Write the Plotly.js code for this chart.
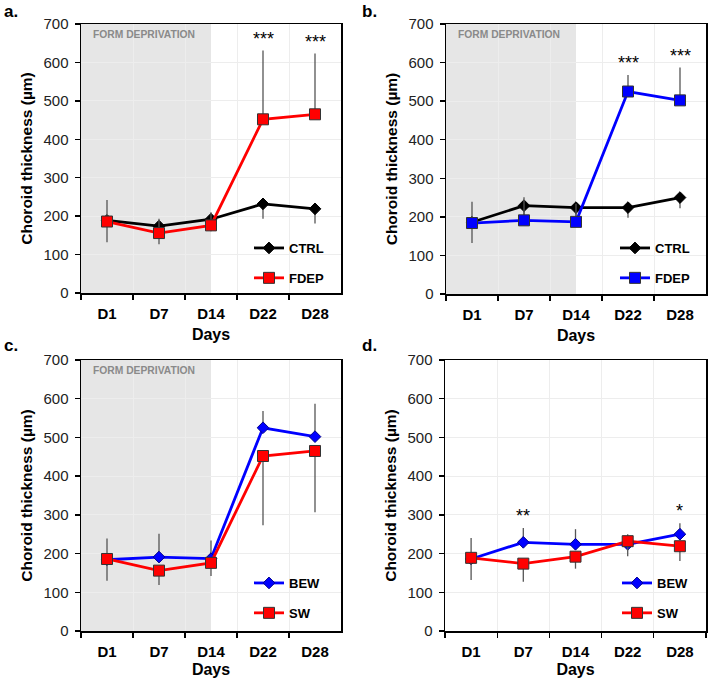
<!DOCTYPE html>
<html>
<head>
<meta charset="utf-8">
<script src="https://cdn.plot.ly/plotly-3.0.1.min.js"></script>
<style>html,body{margin:0;padding:0;background:#fff;}#chart{width:708px;height:678px;}</style>
</head>
<body>
<div id="chart"></div>
<script>
// ---- data ----
const days = ["D1", "D7", "D14", "D22", "D28"];
// SW animals
const swCtrl = [189, 174, 192, 232, 219];
const swCtrlSd = [57, 47, 31, 39, 38];
const swFdep = [186, 156, 176, 452, 465];
const swFdepSd = [56, 37, 34, 179, 158];
// BEW animals
const bewCtrl = [186, 229, 224, 224, 250];
const bewCtrlSd = [54, 37, 39, 26, 28];
const bewFdep = [184, 191, 187, 525, 502];
const bewFdepSd = [55, 60, 47, 43, 85];
// significance marks
const sigA = ["", "", "", "***", "***"];
const sigB = ["", "", "", "***", "***"];
const sigD = ["", "**", "", "", "*"];
const panelLabels = ["a.", "b.", "c.", "d."];
const shadeLabel = "FORM DEPRIVATION";

// ---- style ----
const FONT = "Liberation Sans, Arial, Helvetica, sans-serif";
const zeros = days.map(() => 0);
const RED = "#ff0000", BLUE = "#0000ff", BLACK = "#000000";

function errUp(sd) { return {type: "data", symmetric: false, array: sd, arrayminus: zeros, color: "#555", thickness: 1.3, width: 0}; }
function errDown(sd) { return {type: "data", symmetric: false, array: zeros, arrayminus: sd, color: "#555", thickness: 1.3, width: 0}; }

function diamondTrace(name, y, err, color, ax, leg) {
  return {type: "scatter", mode: "lines+markers", name: name, x: days, y: y,
    xaxis: "x" + ax, yaxis: "y" + ax, legend: leg, legendgroup: name + ax,
    line: {color: color, width: 2.8},
    marker: {symbol: "diamond", size: 9, color: color, line: {color: color === BLACK ? BLACK : "#00008b", width: 1}},
    error_y: err};
}
function squareTrace(name, y, err, color, ax, leg) {
  return {type: "scatter", mode: "lines+markers", name: name, x: days, y: y,
    xaxis: "x" + ax, yaxis: "y" + ax, legend: leg, legendgroup: name + ax,
    line: {color: color, width: 2.8},
    marker: {symbol: "square", size: 11, color: color, line: {color: "#333", width: 1}},
    error_y: err};
}

const traces = [
  diamondTrace("CTRL", swCtrl, errDown(swCtrlSd), BLACK, "", "legend"),
  squareTrace("FDEP", swFdep, errUp(swFdepSd), RED, "", "legend"),
  diamondTrace("CTRL", bewCtrl, errDown(bewCtrlSd), BLACK, "2", "legend2"),
  squareTrace("FDEP", bewFdep, errUp(bewFdepSd), BLUE, "2", "legend2"),
  diamondTrace("BEW", bewFdep, errUp(bewFdepSd), BLUE, "3", "legend3"),
  squareTrace("SW", swFdep, errDown(swFdepSd), RED, "3", "legend3"),
  diamondTrace("BEW", bewCtrl, errUp(bewCtrlSd), BLUE, "4", "legend4"),
  squareTrace("SW", swCtrl, errDown(swCtrlSd), RED, "4", "legend4")
];
traces[0].xaxis = "x"; traces[0].yaxis = "y";
traces[1].xaxis = "x"; traces[1].yaxis = "y";

const W = 708, H = 678;
const panels = [
  {l: 81, r: 341, t: 24, b: 293},
  {l: 446, r: 706, t: 24, b: 294},
  {l: 81, r: 341, t: 360, b: 631},
  {l: 445, r: 706, t: 360, b: 631}
];

function xax(p) {
  return {domain: [p.l / W, p.r / W], type: "category", categoryarray: days, range: [-0.5, 4.5],
    tickson: "boundaries", ticks: "outside", ticklen: 5, tickwidth: 1.3, tickcolor: "#000",
    showgrid: true, gridcolor: "#ededed", gridwidth: 1,
    showline: true, linecolor: "#000", linewidth: 1.5, mirror: true, zeroline: false,
    tickfont: {family: FONT, size: 15, color: "#000", weight: "bold"}, ticklabelstandoff: 6,
    title: {text: "Days", font: {family: FONT, size: 16, color: "#000", weight: "bold"}, standoff: 8},
    fixedrange: true, automargin: false};
}
function yax(p) {
  return {domain: [1 - p.b / H, 1 - p.t / H], range: [0, 700], dtick: 100, tick0: 0,
    ticks: "outside", ticklen: 5, tickwidth: 1.3, tickcolor: "#000",
    showgrid: true, gridcolor: "#ededed", gridwidth: 1,
    showline: true, linecolor: "#000", linewidth: 1.5, mirror: true, zeroline: false,
    tickfont: {family: FONT, size: 15, color: "#222"}, ticklabelstandoff: 3,
    title: {text: "Choroid thickness (µm)", font: {family: FONT, size: 15.5, color: "#000", weight: "bold"}, standoff: 7},
    fixedrange: true, automargin: false};
}

const layout = {
  width: W, height: H, margin: {l: 0, r: 0, t: 0, b: 0},
  paper_bgcolor: "#fff", plot_bgcolor: "#fff", showlegend: true,
  font: {family: FONT},
  xaxis: xax(panels[0]), yaxis: Object.assign(yax(panels[0]), {anchor: "x"}),
  xaxis2: Object.assign(xax(panels[1]), {anchor: "y2"}), yaxis2: Object.assign(yax(panels[1]), {anchor: "x2"}),
  xaxis3: Object.assign(xax(panels[2]), {anchor: "y3"}), yaxis3: Object.assign(yax(panels[2]), {anchor: "x3"}),
  xaxis4: Object.assign(xax(panels[3]), {anchor: "y4"}), yaxis4: Object.assign(yax(panels[3]), {anchor: "x4"}),
  shapes: [], annotations: []
};
layout.xaxis.anchor = "y";

const legendPos = [{x: 249, y: 233}, {x: 615, y: 233}, {x: 249, y: 568}, {x: 617, y: 568}];
["legend", "legend2", "legend3", "legend4"].forEach((k, i) => {
  layout[k] = {x: legendPos[i].x / W, y: 1 - legendPos[i].y / H, xanchor: "left", yanchor: "top",
    bgcolor: "rgba(0,0,0,0)", borderwidth: 0, tracegroupgap: 10, traceorder: "grouped",
    font: {family: FONT, size: 13, color: "#000", weight: "bold"}};
});

const axSuffix = ["", "2", "3", "4"];
// shaded form-deprivation period in panels a, b, c
[0, 1, 2].forEach(i => {
  const s = axSuffix[i];
  layout.shapes.push({type: "rect", xref: "x" + s, yref: "y" + s + " domain", x0: -0.5, x1: 2, y0: 0, y1: 1,
    fillcolor: "#e6e6e6", line: {width: 0}, layer: "below"});
  layout.annotations.push({xref: "x" + s, yref: "y" + s + " domain", x: -0.5, y: 1, xanchor: "left", yanchor: "top",
    xshift: 10, yshift: -3, text: shadeLabel, showarrow: false,
    font: {family: FONT, size: 10.3, color: "#8a8a8a", weight: "bold"}});
});

// significance stars above the upper error bar
function addStars(sig, mean, sd, s) {
  sig.forEach((t, j) => {
    if (!t) return;
    layout.annotations.push({xref: "x" + s, yref: "y" + s, x: days[j], y: mean[j] + sd[j], yanchor: "bottom",
      yshift: 0, text: t, showarrow: false, font: {family: FONT, size: 18, color: "#000"}});
  });
}
addStars(sigA, swFdep, swFdepSd, "");
addStars(sigB, bewFdep, bewFdepSd, "2");
addStars(sigD, bewCtrl, bewCtrlSd, "4");

// panel letters
const labelPos = [{x: 2, y: 0}, {x: 360, y: 0}, {x: 2, y: 334}, {x: 360, y: 334}];
panelLabels.forEach((t, i) => {
  layout.annotations.push({xref: "paper", yref: "paper", x: labelPos[i].x / W, y: 1 - labelPos[i].y / H,
    xanchor: "left", yanchor: "top", text: t, showarrow: false,
    font: {family: FONT, size: 17, color: "#000", weight: "bold"}});
});

Plotly.newPlot("chart", traces, layout, {staticPlot: true, displayModeBar: false});
</script>
</body>
</html>
